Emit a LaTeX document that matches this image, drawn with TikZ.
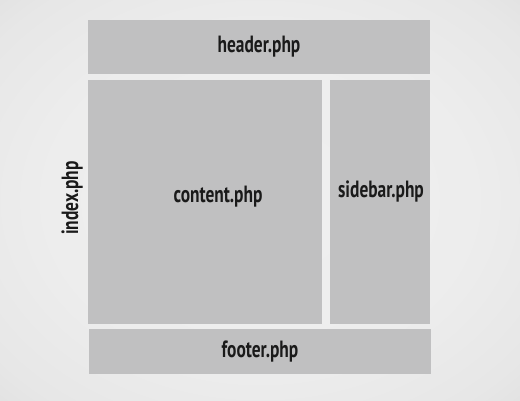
\documentclass[tikz,border=0pt]{standalone}
\usepackage{fontspec}
\usepackage{xcolor}
\usepackage{tikz}
\usetikzlibrary{positioning}
\newfontfamily\labelfont[FakeStretch=0.74]{PT Sans}
\definecolor{boxgray}{HTML}{C0C0C1}
\definecolor{labelink}{HTML}{1A1A1A}
\pgfdeclareradialshading{vignette}{\pgfpoint{0bp}{0bp}}{%
  color(0bp)=(gray!12); color(20bp)=(gray!14); color(32bp)=(gray!19);
  color(42bp)=(gray!28); color(50bp)=(gray!40)}

\begin{document}
\begin{tikzpicture}[x=1pt,y=-1pt,
    block/.style={fill=boxgray, inner sep=0pt, text=labelink,
      font=\labelfont\bfseries\fontsize{23.5}{26}\selectfont},
    tag/.style={text=labelink, inner sep=0pt,
      font=\labelfont\bfseries\fontsize{23.5}{26}\selectfont}]
	        \shade[shading=vignette] (0,0) rectangle (520,400); %background
	        \useasboundingbox (0,0) rectangle (520,400);
	        \node[block, minimum width=342pt, minimum height=54pt] (header) at (259,47) {header.php};
	        \node[block, minimum width=234pt, minimum height=244pt] (content) at (205,202) {};
	        \node[block, minimum width=100pt, minimum height=244pt] (sidebar) at (380,202) {};
	        \node[block, minimum width=342pt, minimum height=45pt] (footer) at (260,351.5) {footer.php};
	        \node[tag] (contentlabel) at (218,197) {content.php};
	        \node[tag] (sidebarlabel) at (381,191) {sidebar.php};
	        \node[tag, rotate=90] (index) at (72,198) {index.php}; % whole page
	    \end{tikzpicture}
\end{document}
